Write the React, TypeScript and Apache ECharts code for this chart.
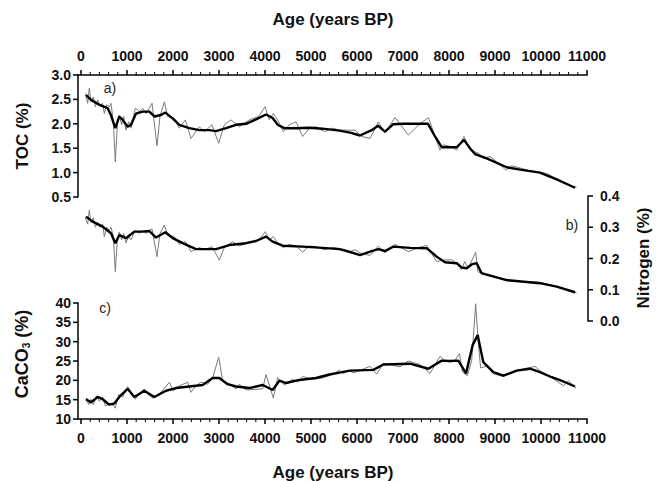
import React, { useEffect, useRef } from "react";
import * as echarts from "echarts";

// ---- Data ----
const xTicks = [0, 1000, 2000, 3000, 4000, 5000, 6000, 7000, 8000, 9000, 10000, 11000];
const xMinorStep = 200;
const tocTicks = [0.5, 1.0, 1.5, 2.0, 2.5, 3.0];
const nTicks = [0.0, 0.1, 0.2, 0.3, 0.4];
const caTicks = [10, 15, 20, 25, 30, 35, 40];

const tocRawAge = [94, 145, 181, 217, 268, 312, 362, 413, 471, 507, 558, 616, 652, 703, 746, 790, 833, 884, 928, 978, 1036, 1087, 1181, 1268, 1341, 1413, 1486, 1544, 1652, 1717, 1812, 1884, 2029, 2138, 2268, 2391, 2572, 2681, 2848, 2993, 3116, 3261, 3442, 3659, 3862, 3999, 4094, 4181, 4275, 4398, 4529, 4674, 4819, 4964, 5109, 5290, 5471, 5630, 5957, 6101, 6283, 6464, 6609, 6826, 7116, 7333, 7551, 7804, 7877, 8058, 8167, 8326, 8457, 8638, 8746, 8891, 9036, 9239, 9362, 9761, 10123, 10486, 10630, 10775];
const tocRaw = [2.62, 2.42, 2.73, 2.45, 2.55, 2.35, 2.49, 2.38, 2.42, 2.21, 2.39, 2.35, 2.42, 2.04, 1.22, 1.98, 2.18, 1.98, 2.15, 1.87, 2.04, 1.91, 2.32, 2.25, 2.32, 2.21, 2.32, 2.42, 1.55, 2.15, 2.45, 2.15, 2.11, 1.91, 2.08, 1.7, 1.94, 1.84, 1.98, 1.6, 1.98, 2.08, 1.94, 2.08, 2.15, 2.35, 2.08, 2.21, 2.08, 1.84, 1.98, 2.04, 1.74, 1.91, 1.94, 1.84, 1.91, 1.87, 1.87, 1.74, 1.7, 2.04, 1.81, 2.13, 1.77, 1.97, 2.13, 1.46, 1.57, 1.53, 1.46, 1.74, 1.46, 1.4, 1.29, 1.33, 1.22, 1.05, 1.14, 1.04, 0.98, 0.8, 0.73, 0.7];

const tocSmoothAge = [109, 217, 400, 580, 650, 746, 833, 906, 1014, 1087, 1196, 1341, 1486, 1594, 1739, 1833, 1993, 2138, 2355, 2572, 2790, 2935, 3152, 3370, 3587, 3804, 4022, 4167, 4275, 4420, 4674, 4964, 5254, 5616, 5848, 6065, 6319, 6457, 6609, 6783, 7007, 7543, 7696, 7841, 8167, 8326, 8457, 8565, 8819, 9254, 9543, 9978, 10341, 10739];
const tocSmooth = [2.59, 2.49, 2.39, 2.32, 2.18, 1.91, 2.15, 2.08, 1.94, 1.98, 2.21, 2.25, 2.25, 2.15, 2.18, 2.23, 2.11, 1.98, 1.91, 1.87, 1.87, 1.85, 1.91, 1.98, 2.0, 2.09, 2.19, 2.12, 1.98, 1.91, 1.91, 1.92, 1.9, 1.86, 1.82, 1.76, 1.87, 1.96, 1.84, 1.99, 2.0, 2.0, 1.74, 1.52, 1.52, 1.67, 1.5, 1.38, 1.29, 1.11, 1.06, 1.0, 0.86, 0.69];

const nRawAge = [94, 145, 181, 217, 268, 312, 362, 413, 471, 507, 558, 616, 652, 703, 746, 790, 833, 884, 928, 978, 1036, 1087, 1181, 1268, 1341, 1413, 1486, 1544, 1652, 1717, 1812, 1884, 2029, 2138, 2268, 2391, 2572, 2681, 2848, 3007, 3116, 3297, 3442, 3659, 3862, 4007, 4094, 4181, 4275, 4398, 4529, 4674, 4819, 4964, 5109, 5290, 5471, 5630, 5848, 5957, 6101, 6283, 6464, 6609, 6826, 7116, 7333, 7514, 7732, 7877, 8058, 8200, 8275, 8340, 8420, 8580, 8630, 8746, 8855, 9036, 9254, 9500, 9978, 10341, 10775];
const nRaw = [0.33, 0.31, 0.355, 0.315, 0.33, 0.3, 0.315, 0.3, 0.31, 0.27, 0.3, 0.29, 0.3, 0.27, 0.158, 0.26, 0.285, 0.26, 0.28, 0.25, 0.27, 0.26, 0.29, 0.28, 0.29, 0.28, 0.29, 0.295, 0.206, 0.28, 0.307, 0.275, 0.27, 0.245, 0.255, 0.222, 0.235, 0.228, 0.238, 0.195, 0.235, 0.254, 0.24, 0.252, 0.258, 0.286, 0.26, 0.27, 0.25, 0.235, 0.245, 0.24, 0.22, 0.24, 0.238, 0.228, 0.235, 0.232, 0.222, 0.228, 0.215, 0.21, 0.24, 0.218, 0.245, 0.222, 0.235, 0.242, 0.19, 0.195, 0.196, 0.182, 0.165, 0.19, 0.17, 0.22, 0.158, 0.148, 0.15, 0.14, 0.128, 0.127, 0.124, 0.11, 0.09];

const nSmoothAge = [109, 254, 471, 652, 746, 833, 978, 1159, 1341, 1486, 1630, 1833, 1993, 2210, 2500, 2935, 3225, 3587, 3804, 4022, 4167, 4384, 4819, 5254, 5616, 5775, 6065, 6283, 6464, 6609, 6790, 7152, 7514, 7732, 7913, 8167, 8275, 8384, 8493, 8601, 8710, 8855, 9254, 9978, 10341, 10739];
const nSmooth = [0.334, 0.318, 0.302, 0.281, 0.249, 0.275, 0.265, 0.286, 0.286, 0.288, 0.267, 0.284, 0.265, 0.249, 0.23, 0.23, 0.243, 0.249, 0.256, 0.27, 0.254, 0.241, 0.238, 0.234, 0.23, 0.224, 0.211, 0.222, 0.23, 0.224, 0.238, 0.234, 0.233, 0.206, 0.188, 0.185, 0.171, 0.169, 0.181, 0.185, 0.153, 0.147, 0.131, 0.121, 0.11, 0.092];

const caRawAge = [109, 167, 217, 268, 341, 399, 471, 529, 616, 688, 746, 819, 906, 1014, 1087, 1181, 1268, 1377, 1449, 1572, 1739, 1920, 2007, 2138, 2319, 2391, 2500, 2609, 2754, 2862, 2993, 3080, 3261, 3370, 3442, 3587, 3949, 4022, 4181, 4275, 4420, 4601, 4710, 4819, 5036, 5254, 5507, 5616, 5703, 5812, 5920, 6283, 6428, 6572, 6935, 7116, 7370, 7587, 7804, 7913, 8022, 8130, 8225, 8297, 8399, 8493, 8580, 8638, 8688, 8819, 8964, 9181, 9435, 9870, 10014, 10196, 10486, 10594, 10761];
const caRaw = [15.4, 13.7, 15.1, 13.7, 16.0, 14.6, 15.7, 13.4, 14.0, 13.7, 12.8, 16.3, 15.7, 18.4, 16.9, 15.1, 16.4, 17.8, 16.4, 15.4, 16.9, 19.5, 17.3, 18.6, 19.5, 16.9, 18.6, 19.5, 19.0, 20.6, 26.0, 19.9, 18.8, 17.8, 19.0, 17.5, 17.8, 21.5, 15.4, 20.7, 18.8, 20.3, 19.5, 21.0, 20.3, 20.6, 21.7, 22.7, 21.7, 22.7, 21.9, 23.6, 21.6, 24.4, 23.5, 25.0, 24.1, 21.8, 26.2, 25.1, 24.7, 25.1, 26.9, 22.1, 21.2, 25.1, 39.8, 29.5, 23.2, 23.7, 21.7, 21.0, 22.5, 23.6, 22.1, 21.0, 18.6, 19.9, 18.0];

const caSmoothAge = [109, 217, 362, 471, 616, 725, 833, 1014, 1159, 1377, 1594, 1848, 2065, 2355, 2645, 2862, 3007, 3188, 3370, 3659, 3949, 4167, 4312, 4457, 4746, 5109, 5399, 5616, 5848, 6355, 6572, 7152, 7551, 7841, 8022, 8203, 8370, 8514, 8623, 8746, 8964, 9181, 9471, 9761, 9978, 10232, 10486, 10739];
const caSmooth = [15.1, 14.3, 15.7, 15.1, 13.7, 14.0, 15.7, 17.8, 15.7, 17.3, 15.7, 17.3, 18.0, 18.4, 18.8, 20.6, 20.6, 19.0, 18.4, 18.0, 18.8, 17.5, 19.9, 19.3, 20.1, 20.6, 21.5, 22.0, 22.5, 22.7, 24.1, 24.3, 23.0, 25.1, 25.0, 25.1, 21.8, 29.1, 31.7, 24.7, 22.1, 21.2, 22.5, 23.0, 22.1, 20.8, 19.7, 18.4];

const zip = (xs: number[], ys: number[]) => xs.map((x, i) => [x, ys[i]]);

const FONT = '"Liberation Sans", Arial, sans-serif';
const INK = "#111";

// layout
const GRID_LEFT = 81;
const GRID_RIGHT = 69;
const CHART_W = 656;
const GRID_W = CHART_W - GRID_LEFT - GRID_RIGHT;
const GRIDS = [
  { top: 75, height: 122 },
  { top: 196, height: 125 },
  { top: 303, height: 116 },
];

export default function App() {
  const ref = useRef<HTMLDivElement>(null);

  useEffect(() => {
    document.body.style.margin = "0";
    if (!ref.current) return;
    const chart = echarts.init(ref.current, null, { renderer: "svg" });

    const xMin = xTicks[0];
    const xMax = xTicks[xTicks.length - 1];
    const xInterval = xTicks[1] - xTicks[0];
    const minorVals: number[] = [];
    for (let v = xMin; v <= xMax; v += xMinorStep) if (v % xInterval !== 0) minorVals.push(v);

    const labelStyle = { fontFamily: FONT, fontWeight: "bold", fontSize: 14, color: INK };

    const makeX = (gridIndex: number, position: string, show: boolean) => ({
      type: "value",
      gridIndex,
      position,
      show,
      min: xMin,
      max: xMax,
      interval: xInterval,
      splitLine: { show: false },
      axisLine: { show: false, onZero: false },
      axisTick: { show: false },
      axisLabel: { ...labelStyle, margin: 12, formatter: (v: number) => String(v) },
    });

    const makeY = (gridIndex: number, ticks: number[], position: string, offset: number, digits: number, margin: number) => ({
      type: "value",
      gridIndex,
      position,
      min: ticks[0],
      max: ticks[ticks.length - 1],
      interval: ticks[1] - ticks[0],
      offset,
      splitLine: { show: false },
      axisLine: { show: true, onZero: false, lineStyle: { color: "#000", width: 1.5, type: "solid" } },
      axisTick: { show: false },
      axisLabel: { ...labelStyle, margin, formatter: (v: number) => v.toFixed(digits) },
    });

    const rawStyle = { color: "#7a7a7a", width: 1 };
    const smoothStyle = { color: "#000", width: 2.4 };

    const texts: any[] = [
      { type: "text", x: 333, y: 19, style: { text: "Age (years BP)", font: `bold 17px ${FONT}`, fill: INK, align: "center", verticalAlign: "middle" } },
      { type: "text", x: 333, y: 472, style: { text: "Age (years BP)", font: `bold 17px ${FONT}`, fill: INK, align: "center", verticalAlign: "middle" } },
      { type: "text", x: 22, y: 136, rotation: Math.PI / 2, style: { text: "TOC (%)", font: `bold 17px ${FONT}`, fill: INK, align: "center", verticalAlign: "middle" } },
      { type: "text", x: 643, y: 258, rotation: Math.PI / 2, style: { text: "Nitrogen (%)", font: `bold 17px ${FONT}`, fill: INK, align: "center", verticalAlign: "middle" } },
      {
        type: "text", x: 22, y: 354, rotation: Math.PI / 2,
        style: {
          text: "{a|CaCO}{s|3}{a| (%)}",
          align: "center", verticalAlign: "middle",
          rich: {
            a: { fontFamily: FONT, fontWeight: "bold", fontSize: 18, fill: INK, color: INK },
            s: { fontFamily: FONT, fontWeight: "bold", fontSize: 10, fill: INK, color: INK, padding: [9, 0, 0, 0] },
          },
        },
      },
      { type: "text", x: 110, y: 88, style: { text: "a)", font: `14px ${FONT}`, fill: "#222", align: "center", verticalAlign: "middle" } },
      { type: "text", x: 572, y: 225, style: { text: "b)", font: `14px ${FONT}`, fill: "#222", align: "center", verticalAlign: "middle" } },
      { type: "text", x: 105, y: 308, style: { text: "c)", font: `14px ${FONT}`, fill: "#222", align: "center", verticalAlign: "middle" } },
    ];

    const option: any = {
      animation: false,
      grid: GRIDS.map((g) => ({ left: GRID_LEFT, right: GRID_RIGHT, top: g.top, height: g.height })),
      xAxis: [makeX(0, "top", true), makeX(1, "bottom", false), makeX(2, "bottom", true)],
      yAxis: [
        makeY(0, tocTicks, "left", 3, 1, 7),
        makeY(1, nTicks, "right", 1, 1, 12),
        makeY(2, caTicks, "left", 3, 0, 7),
      ],
      series: [
        { type: "line", xAxisIndex: 0, yAxisIndex: 0, data: zip(tocRawAge, tocRaw), showSymbol: false, lineStyle: rawStyle, z: 2 },
        { type: "line", xAxisIndex: 0, yAxisIndex: 0, data: zip(tocSmoothAge, tocSmooth), showSymbol: false, lineStyle: smoothStyle, z: 3 },
        { type: "line", xAxisIndex: 1, yAxisIndex: 1, data: zip(nRawAge, nRaw), showSymbol: false, lineStyle: rawStyle, z: 2 },
        { type: "line", xAxisIndex: 1, yAxisIndex: 1, data: zip(nSmoothAge, nSmooth), showSymbol: false, lineStyle: smoothStyle, z: 3 },
        { type: "line", xAxisIndex: 2, yAxisIndex: 2, data: zip(caRawAge, caRaw), showSymbol: false, lineStyle: rawStyle, z: 2 },
        { type: "line", xAxisIndex: 2, yAxisIndex: 2, data: zip(caSmoothAge, caSmooth), showSymbol: false, lineStyle: smoothStyle, z: 3 },
      ],
      graphic: texts,
    };

    chart.setOption(option);

    // ---- axis lines and ticks as filled rectangles, positioned from the axes' scales ----
    const rects: any[] = [];
    try {
      const toPx = (g: number, x: number, y: number) => {
        let p: any = null;
        try {
          p = chart.convertToPixel({ xAxisIndex: g, yAxisIndex: g } as any, [x, y]);
        } catch (e) {
          p = null;
        }
        if (!p || !isFinite(p[0]) || !isFinite(p[1])) {
          const yt = [tocTicks, nTicks, caTicks][g];
          const y0 = yt[0];
          const y1 = yt[yt.length - 1];
          const gr = GRIDS[g];
          p = [
            GRID_LEFT + ((x - xMin) / (xMax - xMin)) * GRID_W,
            gr.top + gr.height - ((y - y0) / (y1 - y0)) * gr.height,
          ];
        }
        return p as number[];
      };
      const box = (x: number, y: number, w: number, h: number) => ({
        type: "rect", silent: true, z: 50,
        shape: { x, y, width: w, height: h },
        style: { fill: "#000" },
      });

      // x axes: top of panel a (ticks point up), bottom of panel c (ticks point down)
      const xDefs = [
        { g: 0, yv: tocTicks[tocTicks.length - 1], dir: -1 },
        { g: 2, yv: caTicks[0], dir: 1 },
      ];
      xDefs.forEach(({ g, yv, dir }) => {
        const [ax0, ay] = toPx(g, xMin, yv);
        const [ax1] = toPx(g, xMax, yv);
        rects.push(box(ax0 - 3.75, ay - 0.75, ax1 - ax0 + 4.5, 1.5));
        xTicks.forEach((v) => {
          const [tx] = toPx(g, v, yv);
          rects.push(box(tx - 0.75, dir < 0 ? ay - 5 : ay, 1.5, 5));
        });
        minorVals.forEach((v) => {
          const [tx] = toPx(g, v, yv);
          rects.push(box(tx - 0.5, dir < 0 ? ay - 3 : ay, 1, 3));
        });
      });

      // y ticks
      const yDefs = [
        { g: 0, ticks: tocTicks, atX: xMin, shift: -3 },
        { g: 1, ticks: nTicks, atX: xMax, shift: 1 },
        { g: 2, ticks: caTicks, atX: xMin, shift: -3 },
      ];
      yDefs.forEach(({ g, ticks, atX, shift }) => {
        ticks.forEach((t) => {
          const [px, py] = toPx(g, atX, t);
          const bx = px + shift;
          rects.push(box(shift < 0 ? bx - 5 : bx, py - 0.75, 5, 1.5));
        });
      });
    } catch (e) {
      // keep chart without furniture if anything fails
    }

    if (rects.length) chart.setOption({ graphic: [...texts, ...rects] });
    return () => chart.dispose();
  }, []);

  return <div ref={ref} style={{ width: 656, height: 481 }} />;
}
